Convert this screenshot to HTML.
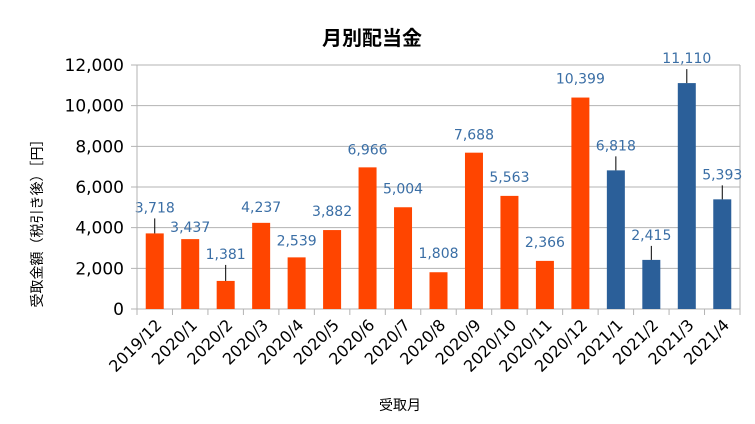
<!DOCTYPE html>
<html><head><meta charset="utf-8"><style>
body{margin:0;background:#fff;}
svg{display:block;font-family:"DejaVu Sans","Noto Sans CJK JP",sans-serif;}
</style></head><body>
<svg id="chart" width="755" height="424" viewBox="0 0 755 424">
<rect width="755" height="424" fill="#fff"/>
<text x="372" y="45" text-anchor="middle" font-size="20" font-weight="bold" fill="#000" font-family="Noto Sans CJK JP, sans-serif">月別配当金</text>
<text transform="translate(42,220) rotate(-90)" text-anchor="middle" font-size="14" fill="#000" font-family="Noto Sans CJK JP, sans-serif">受取金額（税引き後）［円］</text>
<text x="400" y="410" text-anchor="middle" font-size="14" fill="#000" font-family="Noto Sans CJK JP, sans-serif">受取月</text>
<g id="grid"></g><g id="bars"></g><g id="labels"></g><g id="axes"></g>
</svg>
<script>
const categories=["2019/12","2020/1","2020/2","2020/3","2020/4","2020/5","2020/6","2020/7","2020/8","2020/9","2020/10","2020/11","2020/12","2021/1","2021/2","2021/3","2021/4"];
const values=[3718,3437,1381,4237,2539,3882,6966,5004,1808,7688,5563,2366,10399,6818,2415,11110,5393];
const seriesGroup=[0,0,0,0,0,0,0,0,0,0,0,0,0,1,1,1,1];
const yTicks=[0,2000,4000,6000,8000,10000,12000];
const labelLift=[21,7,22,11,12,14,13,14,14,13,14,14,14,20,20,20,20];
const leader=[1,0,1,0,0,0,0,0,0,0,0,0,0,1,1,1,1];
const colors=["#ff4500","#2b5f99"];
const L=137,R=740,T=65,B=309,yMax=12000;
const ns="http://www.w3.org/2000/svg";
const cw=(R-L)/categories.length;
const x=i=>L+cw*(i+0.5);
const y=v=>B-(v/yMax)*(B-T);
function mk(t,a,p){const e=document.createElementNS(ns,t);for(const k in a)e.setAttribute(k,a[k]);p.appendChild(e);return e;}
const grid=document.getElementById('grid'),bars=document.getElementById('bars'),labels=document.getElementById('labels'),axes=document.getElementById('axes');
yTicks.forEach(v=>{
 const g=mk('line',{x1:L-6,x2:R,y1:y(v),y2:y(v),stroke:'#b3b3b3','stroke-width':1},grid);
 
 
 const t=mk('text',{x:L-13,y:y(v)+6,'text-anchor':'end','font-size':17,fill:'#000'},axes);
 t.textContent=v.toLocaleString('en-US');
 
 
});
mk('line',{x1:R,x2:R,y1:T,y2:B+6,stroke:'#b3b3b3'},grid);
mk('line',{x1:L,x2:L,y1:T,y2:B+6,stroke:'#b3b3b3'},axes);
for(let i=0;i<=categories.length;i++){mk('line',{x1:L+cw*i,x2:L+cw*i,y1:B,y2:B+6,stroke:'#b3b3b3'},axes);}
categories.forEach((c,i)=>{
 const bw=18,top=y(values[i]);
 const b=mk('rect',{x:x(i)-bw/2,y:top,width:bw,height:B-top,fill:colors[seriesGroup[i]]},bars);
 
 
 const ly=top-labelLift[i];
 if(leader[i]){mk('line',{x1:x(i),x2:x(i),y1:top,y2:ly+6,stroke:'#000'},labels);}
 const t=mk('text',{x:x(i),y:ly,'text-anchor':'middle','font-size':14,fill:'#3a6ea5'},labels);
 t.textContent=values[i].toLocaleString('en-US');
 
 
 const xl=mk('text',{x:0,y:0,'text-anchor':'end','font-size':16,fill:'#000',transform:`translate(${x(i)+8},${B+17}) rotate(-45)`},axes);
 xl.textContent=c;
 
 
});
</script>
</body></html>
